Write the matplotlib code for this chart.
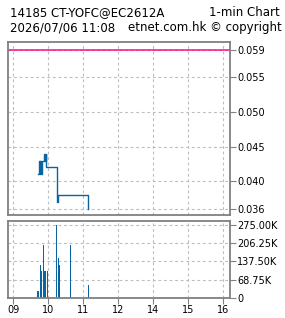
import numpy as np
import matplotlib
matplotlib.use('Agg')
import matplotlib.pyplot as plt

title_left = "14185 CT-YOFC@EC2612A"
title_right = "1-min Chart"
stamp_left = "2026/07/06 11:08"
stamp_right = "etnet.com.hk \u00a9 copyright"

prev_close = 0.059

# price change points (time, price)
price_times = ["09:43","09:45","09:46","09:47","09:48","09:49","09:50","09:53",
               "09:55","09:56","09:57","10:15","10:16","10:17","11:09"]
prices = [0.041,0.043,0.041,0.043,0.041,0.042,0.043,0.044,
          0.043,0.044,0.042,0.039,0.037,0.038,0.036]

# volume bars (time, shares)
vol_times = ["09:43","09:47","09:48","09:52","09:55","09:59","10:15","10:18","10:20","10:39","11:09"]
volumes = [25000,124000,101000,200000,101000,101000,275000,149000,124000,200000,48000]

price_ticks = [0.036,0.040,0.045,0.050,0.055,0.059]
vol_ticks = [0,68750,137500,206250,275000]
vol_labels = ["0","68.75K","137.50K","206.25K","275.00K"]
hour_ticks = [0,1,2,3,4,5,6]
hour_labels = ["09","10","11","12","14","15","16"]

def pos(t): # hours from 09:00, lunch hour removed
	h, m = t.split(":")
	v = int(h) + int(m)/60.0 - 9
	if v >= 4: # 13:00 onwards
		v -= 1
	return v

px = [pos(t) for t in price_times]
vx = [pos(t) for t in vol_times]

line_c = '#0a64a0'
grid_c = '#bdbdbd'
frame_c = '#808080'

fig = plt.figure(figsize=(2.85,3.18), dpi=100)
ax = fig.add_axes([0.0281,0.3239,0.779,0.544])
av = fig.add_axes([0.0281,0.0638,0.779,0.241])

ax.step(px, prices, where='post', color=line_c, lw=1.0)
ax.axhline(prev_close, color='#ff0a82', lw=1.1)
ax.set_ylim(0.03514,0.0601)

av.bar(vx, volumes, width=0.035, color=line_c, antialiased=False, linewidth=0)
av.set_ylim(0,290000)

for a in (ax, av):
	a.set_xlim(-0.143,6.2)
	a.set_xticks(hour_ticks)
	a.grid(True, color=grid_c, ls=(0,(2.5,2.5)), lw=0.8)
	a.set_axisbelow(True)
	for s in a.spines.values():
		s.set_color(frame_c)
		s.set_linewidth(1.3)
	a.yaxis.tick_right()
	a.tick_params(axis='y', length=4, width=0.8, color=frame_c, labelsize=7, pad=1, labelcolor='black')
	a.tick_params(axis='x', length=4, width=0.8, color=frame_c, labelsize=7, pad=1)

ax.set_yticks(price_ticks)
ax.set_yticklabels(["%.3f" % v for v in price_ticks])
ax.tick_params(axis='x', bottom=False, labelbottom=False)

av.set_yticks(vol_ticks)
av.set_yticklabels(vol_labels)
av.set_xticklabels(hour_labels)

fig.text(0.035,0.962,title_left,fontsize=8.5,va='center',ha='left')
fig.text(0.982,0.962,title_right,fontsize=8.5,va='center',ha='right')
fig.text(0.035,0.912,stamp_left,fontsize=8.5,va='center',ha='left')
fig.text(0.99,0.912,stamp_right,fontsize=8.5,va='center',ha='right')

fig.savefig('out.png', dpi=100)
